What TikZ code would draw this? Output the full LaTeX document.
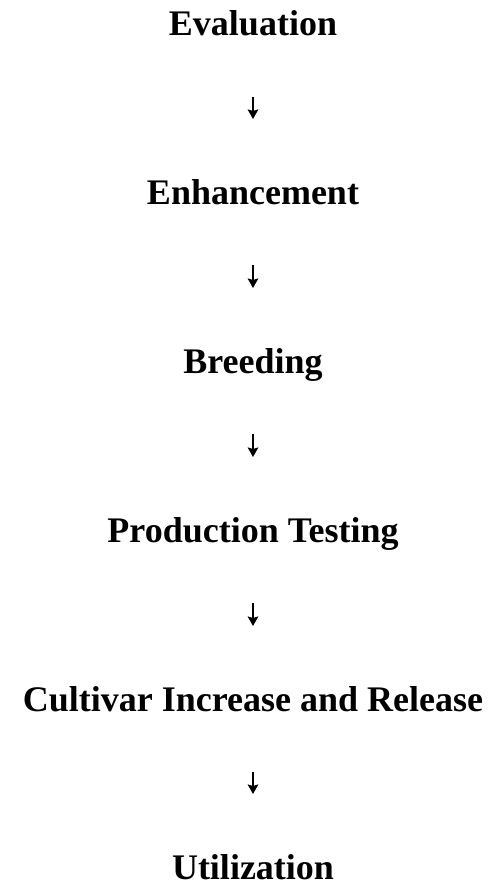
\documentclass[tikz,border=0pt]{standalone}
\usepackage{fontspec}
\setmainfont{Liberation Serif}
\usetikzlibrary{arrows.meta}
\begin{document}
\begin{tikzpicture}[x=1pt,y=1pt,
  stage/.style={anchor=base,inner sep=0pt,font=\fontsize{36}{40}\selectfont\bfseries},
  arr/.style={line width=1.9pt,-{Stealth[width=10.5pt,length=9.5pt,inset=1.5pt]},shorten <=61pt,shorten >=85pt}]
\useasboundingbox (0,0) rectangle (489,-891);
\node[stage] (s1) at (253,-36) {Evaluation};
\node[stage] (s2) at (253,-204) {Enhancement};
\node[stage] (s3) at (253,-373) {Breeding};
\node[stage] (s4) at (253,-542) {Production Testing};
\node[stage] (s5) at (253,-711) {Cultivar Increase and Release};
\node[stage] (s6) at (253,-879) {Utilization};
\draw[arr] (s1.base) -- (s2.base);
\draw[arr] (s2.base) -- (s3.base);
\draw[arr] (s3.base) -- (s4.base);
\draw[arr] (s4.base) -- (s5.base);
\draw[arr] (s5.base) -- (s6.base);
\end{tikzpicture}
\end{document}
